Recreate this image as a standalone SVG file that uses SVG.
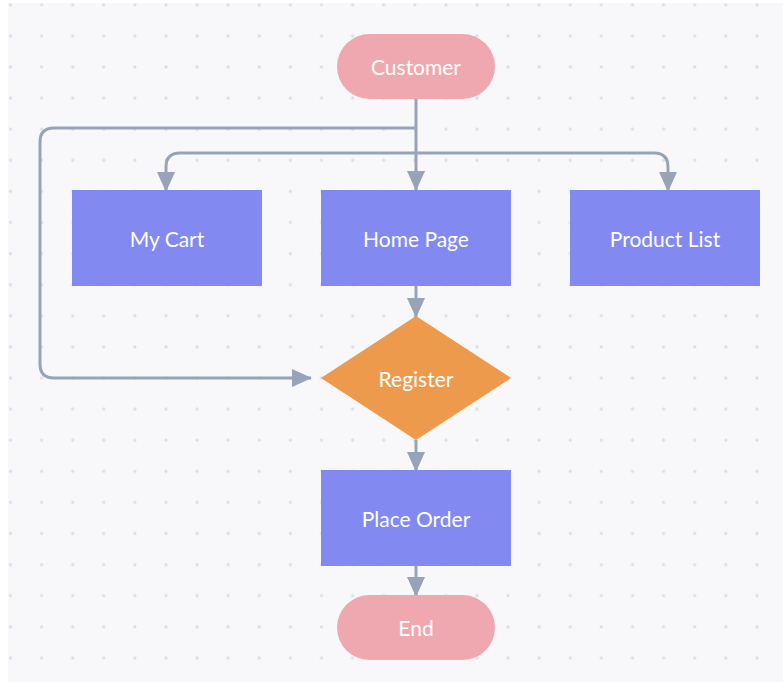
<svg xmlns="http://www.w3.org/2000/svg" width="783" height="682" viewBox="0 0 783 682">
  <defs>
    <pattern id="dots" x="10.5" y="4.8" width="31.1" height="31.1" patternUnits="userSpaceOnUse">
      <circle cx="0" cy="0" r="1.6" fill="#dcdde4"/>
      <circle cx="31.1" cy="0" r="1.6" fill="#dcdde4"/>
      <circle cx="0" cy="31.1" r="1.6" fill="#dcdde4"/>
      <circle cx="31.1" cy="31.1" r="1.6" fill="#dcdde4"/>
    </pattern>
    <marker id="arrow" viewBox="0 0 20 18" refX="19" refY="9" markerWidth="20" markerHeight="18" markerUnits="userSpaceOnUse" orient="auto">
      <path d="M0,0 L20,9 L0,18 Z" fill="#97a3b6"/>
    </marker>
    <style>
      .conn { fill: none; stroke: #97a3b6; stroke-width: 3; }
      .box { fill: #8289f0; }
      .pill { fill: #f0a8b0; }
      .dia { fill: #ee9a4d; }
      .lbl { font-family: Lato, "Liberation Sans", sans-serif; font-size: 21px; fill: #ffffff; text-anchor: middle; dominant-baseline: central; }
    </style>
  </defs>
  <rect x="0" y="0" width="783" height="682" fill="#ffffff"/>
  <rect x="8" y="3" width="775" height="679" fill="#f8f8fb"/>
  <rect x="8" y="3" width="775" height="679" fill="url(#dots)"/>

  <g id="connectors">
    <path class="conn" d="M416,99 L416,190" marker-end="url(#arrow)"/>
    <path class="conn" d="M416,128 L54,128 Q40,128 40,142 L40,364 Q40,378 54,378 L311,378" marker-end="url(#arrow)"/>
    <path class="conn" d="M416,153 L180,153 Q166,153 166,167 L166,191" marker-end="url(#arrow)"/>
    <path class="conn" d="M416,153 L654,153 Q668,153 668,167 L668,191" marker-end="url(#arrow)"/>
    <path class="conn" d="M416,286 L416,317" marker-end="url(#arrow)"/>
    <path class="conn" d="M416,440 L416,471" marker-end="url(#arrow)"/>
    <path class="conn" d="M416,566 L416,596" marker-end="url(#arrow)"/>
  </g>

  <g id="customer">
    <rect class="pill" x="337" y="34" width="158" height="65" rx="32.5"/>
    <text class="lbl" x="416" y="66">Customer</text>
  </g>
  <g id="my-cart">
    <rect class="box" x="72" y="190" width="190" height="96"/>
    <text class="lbl" x="167" y="238">My Cart</text>
  </g>
  <g id="home-page">
    <rect class="box" x="321" y="190" width="190" height="96"/>
    <text class="lbl" x="416" y="238">Home Page</text>
  </g>
  <g id="product-list">
    <rect class="box" x="570" y="190" width="190" height="96"/>
    <text class="lbl" x="665" y="238">Product List</text>
  </g>
  <g id="register">
    <polygon class="dia" points="416,316 511,378 416,440 321,378"/>
    <text class="lbl" x="416" y="378">Register</text>
  </g>
  <g id="place-order">
    <rect class="box" x="321" y="470" width="190" height="96"/>
    <text class="lbl" x="416" y="518">Place Order</text>
  </g>
  <g id="end">
    <rect class="pill" x="337" y="595" width="158" height="65" rx="32.5"/>
    <text class="lbl" x="416" y="627">End</text>
  </g>
</svg>
